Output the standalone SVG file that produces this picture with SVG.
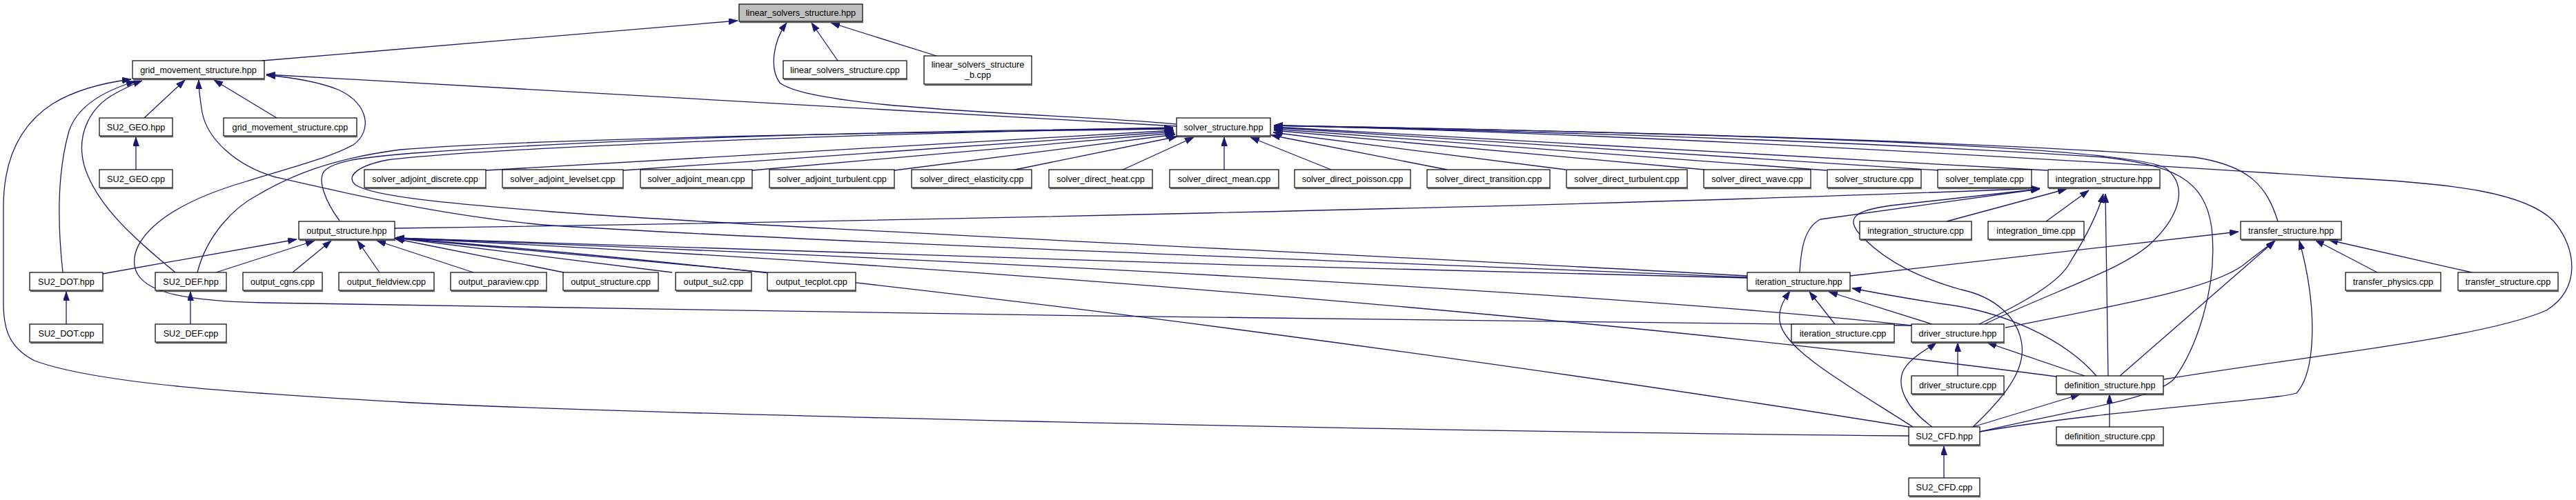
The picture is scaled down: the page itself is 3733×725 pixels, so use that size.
<svg xmlns="http://www.w3.org/2000/svg" width="3733" height="725" viewBox="0 0 3733 725">
<style>
.bg{fill:#ffffff}
.nd rect.b{fill:#ffffff;stroke:#000000;stroke-width:1.2}
.nd rect.g{fill:#bfbfbf;stroke:#000000;stroke-width:1.2}
.nd line.s{stroke:#555555;stroke-width:1.6}
.nd text{font-family:"Liberation Sans",Arial,Helvetica,sans-serif;font-size:12.7px;fill:#000000;text-anchor:middle}
.ed path{fill:none;stroke:#191970;stroke-width:1.3;marker-end:url(#ah)}
</style>
<defs>
<marker id="ah" markerWidth="14" markerHeight="10" refX="13" refY="4.5" orient="auto" markerUnits="userSpaceOnUse">
<path d="M0,0 L13,4.5 L0,9 z" fill="#191970" stroke="#191970" stroke-width="0.8"/>
</marker>
</defs>
<rect class="bg" x="0" y="0" width="3733" height="725"/>
<g id="connectors" class="ed">
<path d="M380,88 L1069,30"/>
<path d="M1704,180 C1550,165 1180,160 1130,120 C1115,100 1120,60 1140,33"/>
<path d="M1214,88 L1176,33"/>
<path d="M1357,81 L1204,33"/>
<path d="M209,171 L268,116"/>
<path d="M401,171 L310,116"/>
<path d="M1705,183 L386,108"/>
<path d="M2770,472 C2300,466 900,452 383,439 C250,436 200,420 195,385 C190,350 230,300 357,263 C430,240 480,228 512,210 C540,190 535,150 490,130 C460,118 420,112 386,109"/>
<path d="M2766,632 C2000,625 900,600 580,583 C400,572 150,560 50,523 C15,505 5,480 5,440 L5,300 C5,230 30,180 77,150 C110,130 150,120 190,115"/>
<path d="M91,395 C85,340 80,260 100,190 C110,160 140,135 196,118"/>
<path d="M254,395 C200,350 140,300 122,240 C110,195 130,155 168,135 C185,126 195,121 206,117"/>
<path d="M2532,402 C2000,380 1200,352 800,327 C650,315 500,280 400,257 C340,240 300,200 293,163 C290,145 288,130 288,116"/>
<path d="M286,395 C300,340 340,300 373,283 C420,255 480,230 580,217 C800,200 1300,192 1700,187"/>
<path d="M492,320 C470,290 460,260 470,248 C485,232 530,228 600,222 C900,200 1300,190 1700,186"/>
<path d="M2532,400 C2000,370 1100,330 800,307 C650,295 540,285 515,268 C500,255 520,240 561,232 C700,215 1200,195 1700,185"/>
<path d="M704,247 L1701,189"/>
<path d="M903,247 L1701,191"/>
<path d="M1090,247 L1702,193"/>
<path d="M1296,247 L1703,195"/>
<path d="M1466,247 L1706,198"/>
<path d="M1625,247 L1730,199"/>
<path d="M1774,246 L1774,199"/>
<path d="M1929,246 L1812,199"/>
<path d="M2097,246 L1842,196"/>
<path d="M2269,246 L1845,192"/>
<path d="M2470,246 L1846,189"/>
<path d="M2647,247 L1846,187"/>
<path d="M2810,247 L1846,185"/>
<path d="M2967,247 L1846,184"/>
<path d="M2876,470 C2980,420 3080,390 3120,350 C3160,310 3170,270 3140,245 C3100,215 2600,195 1846,182"/>
<path d="M2869,626 C3000,595 3120,580 3150,550 C3180,510 3215,420 3205,330 C3195,260 3150,240 3050,228 C2700,205 2200,190 1846,182"/>
<path d="M3301,321 C3285,270 3260,240 3180,228 C2800,200 2200,188 1846,182"/>
<path d="M3136,550 C3350,515 3600,490 3690,450 C3740,420 3735,360 3700,320 C3660,280 3560,266 3400,258 C2900,225 2300,192 1846,182"/>
<path d="M2821,321 L2995,274"/>
<path d="M2965,321 L3027,276"/>
<path d="M572,331 C1200,322 2300,300 2956,273"/>
<path d="M2608,395 C2610,360 2615,330 2638,318 L2956,274"/>
<path d="M2859,619 C2900,580 2935,540 2930,500 C2925,460 2890,430 2842,420 C2790,405 2740,385 2700,345 C2670,315 2690,305 2740,298 L2956,274"/>
<path d="M2868,470 C2930,440 2985,410 3000,380 C3025,340 3040,310 3048,281"/>
<path d="M3055,545 L3051,281"/>
<path d="M2681,400 L3244,336"/>
<path d="M3445,395 L3355,348"/>
<path d="M3582,395 L3375,348"/>
<path d="M2906,475 C3080,440 3200,420 3250,385 C3275,365 3290,355 3296,349"/>
<path d="M3072,545 L3297,349"/>
<path d="M2869,626 C3050,595 3300,580 3328,570 C3355,540 3360,450 3332,349"/>
<path d="M2659,470 L2622,423"/>
<path d="M2800,470 L2650,423"/>
<path d="M3038,545 C2990,490 2900,450 2810,440 C2760,432 2720,425 2684,418"/>
<path d="M2772,619 C2680,560 2590,510 2580,470 C2575,450 2585,435 2594,422"/>
<path d="M2837,545 L2837,497"/>
<path d="M3021,545 L2880,497"/>
<path d="M2800,619 C2760,590 2750,560 2757,540 C2765,520 2795,505 2806,497"/>
<path d="M3057,619 L3057,572"/>
<path d="M2859,619 L3014,572"/>
<path d="M2817,693 L2817,647"/>
<path d="M149,397 L430,347"/>
<path d="M313,395 L456,349"/>
<path d="M424,395 L480,349"/>
<path d="M550,395 L518,349"/>
<path d="M686,395 L546,349"/>
<path d="M817,395 L572,346"/>
<path d="M974,395 L573,345"/>
<path d="M1111,395 L573,345"/>
<path d="M2532,403 C1900,390 1000,360 573,345"/>
<path d="M2770,472 C2400,430 1500,380 573,345"/>
<path d="M2980,546 C2400,470 1500,390 573,345"/>
<path d="M2766,619 C2400,560 1400,410 573,345"/>
<path d="M197,246 L197,199"/>
<path d="M96,470 L96,423"/>
<path d="M276,470 L276,423"/>
</g>
<g id="n_lss" class="nd"><line class="s" x1="1072" y1="32.5" x2="1251" y2="32.5"/><rect class="g" x="1071" y="6" width="179" height="25"/><text x="1160.5" y="23">linear_solvers_structure.hpp</text></g>
<g id="n_gms" class="nd"><line class="s" x1="193" y1="115.5" x2="384" y2="115.5"/><rect class="b" x="192" y="88" width="191" height="26"/><text x="287.5" y="105.5">grid_movement_structure.hpp</text></g>
<g id="n_lsscpp" class="nd"><line class="s" x1="1136" y1="115.5" x2="1315" y2="115.5"/><rect class="b" x="1135" y="88" width="179" height="26"/><text x="1224.5" y="105.5">linear_solvers_structure.cpp</text></g>
<g id="n_lssb" class="nd"><line class="s" x1="1340" y1="123.5" x2="1496" y2="123.5"/><rect class="b" x="1339" y="81" width="156" height="41"/><text x="1417" y="98">linear_solvers_structure</text><text x="1417" y="113">_b.cpp</text></g>
<g id="n_geo_h" class="nd"><line class="s" x1="145" y1="198.5" x2="251" y2="198.5"/><rect class="b" x="144" y="171" width="106" height="26"/><text x="197" y="188.5">SU2_GEO.hpp</text></g>
<g id="n_gms_cpp" class="nd"><line class="s" x1="325" y1="198.5" x2="518" y2="198.5"/><rect class="b" x="324" y="171" width="193" height="26"/><text x="420.5" y="188.5">grid_movement_structure.cpp</text></g>
<g id="n_ss" class="nd"><line class="s" x1="1706" y1="198.5" x2="1842" y2="198.5"/><rect class="b" x="1705" y="171" width="136" height="26"/><text x="1773" y="188.5">solver_structure.hpp</text></g>
<g id="n_geo_cpp" class="nd"><line class="s" x1="145" y1="273.5" x2="251" y2="273.5"/><rect class="b" x="144" y="246" width="106" height="26"/><text x="197" y="263.5">SU2_GEO.cpp</text></g>
<g id="n_sad" class="nd"><line class="s" x1="529" y1="273.5" x2="705" y2="273.5"/><rect class="b" x="528" y="246" width="176" height="26"/><text x="616" y="263.5">solver_adjoint_discrete.cpp</text></g>
<g id="n_sal" class="nd"><line class="s" x1="729" y1="273.5" x2="904" y2="273.5"/><rect class="b" x="728" y="246" width="175" height="26"/><text x="815.5" y="263.5">solver_adjoint_levelset.cpp</text></g>
<g id="n_sam" class="nd"><line class="s" x1="929" y1="273.5" x2="1091" y2="273.5"/><rect class="b" x="928" y="246" width="162" height="26"/><text x="1009" y="263.5">solver_adjoint_mean.cpp</text></g>
<g id="n_sat" class="nd"><line class="s" x1="1116" y1="273.5" x2="1297" y2="273.5"/><rect class="b" x="1115" y="246" width="181" height="26"/><text x="1205.5" y="263.5">solver_adjoint_turbulent.cpp</text></g>
<g id="n_sde" class="nd"><line class="s" x1="1322" y1="273.5" x2="1496" y2="273.5"/><rect class="b" x="1321" y="246" width="174" height="26"/><text x="1408" y="263.5">solver_direct_elasticity.cpp</text></g>
<g id="n_sdh" class="nd"><line class="s" x1="1521" y1="273.5" x2="1671" y2="273.5"/><rect class="b" x="1520" y="246" width="150" height="26"/><text x="1595" y="263.5">solver_direct_heat.cpp</text></g>
<g id="n_sdm" class="nd"><line class="s" x1="1696" y1="273.5" x2="1854" y2="273.5"/><rect class="b" x="1695" y="246" width="158" height="26"/><text x="1774" y="263.5">solver_direct_mean.cpp</text></g>
<g id="n_sdp" class="nd"><line class="s" x1="1877" y1="273.5" x2="2045" y2="273.5"/><rect class="b" x="1876" y="246" width="168" height="26"/><text x="1960" y="263.5">solver_direct_poisson.cpp</text></g>
<g id="n_sdtr" class="nd"><line class="s" x1="2069" y1="273.5" x2="2247" y2="273.5"/><rect class="b" x="2068" y="246" width="178" height="26"/><text x="2157" y="263.5">solver_direct_transition.cpp</text></g>
<g id="n_sdtu" class="nd"><line class="s" x1="2271" y1="273.5" x2="2446" y2="273.5"/><rect class="b" x="2270" y="246" width="175" height="26"/><text x="2357.5" y="263.5">solver_direct_turbulent.cpp</text></g>
<g id="n_sdw" class="nd"><line class="s" x1="2470" y1="273.5" x2="2625" y2="273.5"/><rect class="b" x="2469" y="246" width="155" height="26"/><text x="2546.5" y="263.5">solver_direct_wave.cpp</text></g>
<g id="n_sscpp" class="nd"><line class="s" x1="2649" y1="273.5" x2="2785" y2="273.5"/><rect class="b" x="2648" y="246" width="136" height="26"/><text x="2716" y="263.5">solver_structure.cpp</text></g>
<g id="n_stpl" class="nd"><line class="s" x1="2809" y1="273.5" x2="2945" y2="273.5"/><rect class="b" x="2808" y="246" width="136" height="26"/><text x="2876" y="263.5">solver_template.cpp</text></g>
<g id="n_inth" class="nd"><line class="s" x1="2969" y1="273.5" x2="3131" y2="273.5"/><rect class="b" x="2968" y="246" width="162" height="26"/><text x="3049" y="263.5">integration_structure.hpp</text></g>
<g id="n_osh" class="nd"><line class="s" x1="434" y1="348.5" x2="573" y2="348.5"/><rect class="b" x="433" y="321" width="139" height="26"/><text x="502.5" y="338.5">output_structure.hpp</text></g>
<g id="n_intcpp" class="nd"><line class="s" x1="2696" y1="348.5" x2="2858" y2="348.5"/><rect class="b" x="2695" y="321" width="162" height="26"/><text x="2776" y="338.5">integration_structure.cpp</text></g>
<g id="n_inttime" class="nd"><line class="s" x1="2882" y1="348.5" x2="3021" y2="348.5"/><rect class="b" x="2881" y="321" width="139" height="26"/><text x="2950.5" y="338.5">integration_time.cpp</text></g>
<g id="n_trh" class="nd"><line class="s" x1="3248" y1="348.5" x2="3394" y2="348.5"/><rect class="b" x="3247" y="321" width="146" height="26"/><text x="3320" y="338.5">transfer_structure.hpp</text></g>
<g id="n_doth" class="nd"><line class="s" x1="44" y1="422.5" x2="150" y2="422.5"/><rect class="b" x="43" y="395" width="106" height="26"/><text x="96" y="412.5">SU2_DOT.hpp</text></g>
<g id="n_defh" class="nd"><line class="s" x1="226" y1="422.5" x2="329" y2="422.5"/><rect class="b" x="225" y="395" width="103" height="26"/><text x="276.5" y="412.5">SU2_DEF.hpp</text></g>
<g id="n_ocg" class="nd"><line class="s" x1="353" y1="422.5" x2="468" y2="422.5"/><rect class="b" x="352" y="395" width="115" height="26"/><text x="409.5" y="412.5">output_cgns.cpp</text></g>
<g id="n_ofv" class="nd"><line class="s" x1="492" y1="422.5" x2="630" y2="422.5"/><rect class="b" x="491" y="395" width="138" height="26"/><text x="560" y="412.5">output_fieldview.cpp</text></g>
<g id="n_opv" class="nd"><line class="s" x1="654" y1="422.5" x2="793" y2="422.5"/><rect class="b" x="653" y="395" width="139" height="26"/><text x="722.5" y="412.5">output_paraview.cpp</text></g>
<g id="n_oscpp" class="nd"><line class="s" x1="817" y1="422.5" x2="955" y2="422.5"/><rect class="b" x="816" y="395" width="138" height="26"/><text x="885" y="412.5">output_structure.cpp</text></g>
<g id="n_osu2" class="nd"><line class="s" x1="980" y1="422.5" x2="1090" y2="422.5"/><rect class="b" x="979" y="395" width="110" height="26"/><text x="1034" y="412.5">output_su2.cpp</text></g>
<g id="n_otec" class="nd"><line class="s" x1="1113" y1="422.5" x2="1241" y2="422.5"/><rect class="b" x="1112" y="395" width="128" height="26"/><text x="1176" y="412.5">output_tecplot.cpp</text></g>
<g id="n_ish" class="nd"><line class="s" x1="2533" y1="422.5" x2="2682" y2="422.5"/><rect class="b" x="2532" y="395" width="149" height="26"/><text x="2606.5" y="412.5">iteration_structure.hpp</text></g>
<g id="n_trp" class="nd"><line class="s" x1="3400" y1="422.5" x2="3538" y2="422.5"/><rect class="b" x="3399" y="395" width="138" height="26"/><text x="3468" y="412.5">transfer_physics.cpp</text></g>
<g id="n_trcpp" class="nd"><line class="s" x1="3563" y1="422.5" x2="3708" y2="422.5"/><rect class="b" x="3562" y="395" width="145" height="26"/><text x="3634.5" y="412.5">transfer_structure.cpp</text></g>
<g id="n_dotcpp" class="nd"><line class="s" x1="44" y1="497.5" x2="150" y2="497.5"/><rect class="b" x="43" y="470" width="106" height="26"/><text x="96" y="487.5">SU2_DOT.cpp</text></g>
<g id="n_defcpp" class="nd"><line class="s" x1="226" y1="497.5" x2="329" y2="497.5"/><rect class="b" x="225" y="470" width="103" height="26"/><text x="276.5" y="487.5">SU2_DEF.cpp</text></g>
<g id="n_iscpp" class="nd"><line class="s" x1="2597" y1="497.5" x2="2746" y2="497.5"/><rect class="b" x="2596" y="470" width="149" height="26"/><text x="2670.5" y="487.5">iteration_structure.cpp</text></g>
<g id="n_drh" class="nd"><line class="s" x1="2771" y1="497.5" x2="2905" y2="497.5"/><rect class="b" x="2770" y="470" width="134" height="26"/><text x="2837" y="487.5">driver_structure.hpp</text></g>
<g id="n_drcpp" class="nd"><line class="s" x1="2771" y1="572.5" x2="2905" y2="572.5"/><rect class="b" x="2770" y="545" width="134" height="26"/><text x="2837" y="562.5">driver_structure.cpp</text></g>
<g id="n_dfh" class="nd"><line class="s" x1="2981" y1="572.5" x2="3136" y2="572.5"/><rect class="b" x="2980" y="545" width="155" height="26"/><text x="3057.5" y="562.5">definition_structure.hpp</text></g>
<g id="n_cfdh" class="nd"><line class="s" x1="2767" y1="646.5" x2="2870" y2="646.5"/><rect class="b" x="2766" y="619" width="103" height="26"/><text x="2817.5" y="636.5">SU2_CFD.hpp</text></g>
<g id="n_dfcpp" class="nd"><line class="s" x1="2981" y1="646.5" x2="3136" y2="646.5"/><rect class="b" x="2980" y="619" width="155" height="26"/><text x="3057.5" y="636.5">definition_structure.cpp</text></g>
<g id="n_cfdcpp" class="nd"><line class="s" x1="2767" y1="720.5" x2="2870" y2="720.5"/><rect class="b" x="2766" y="693" width="103" height="26"/><text x="2817.5" y="710.5">SU2_CFD.cpp</text></g>
</svg>
